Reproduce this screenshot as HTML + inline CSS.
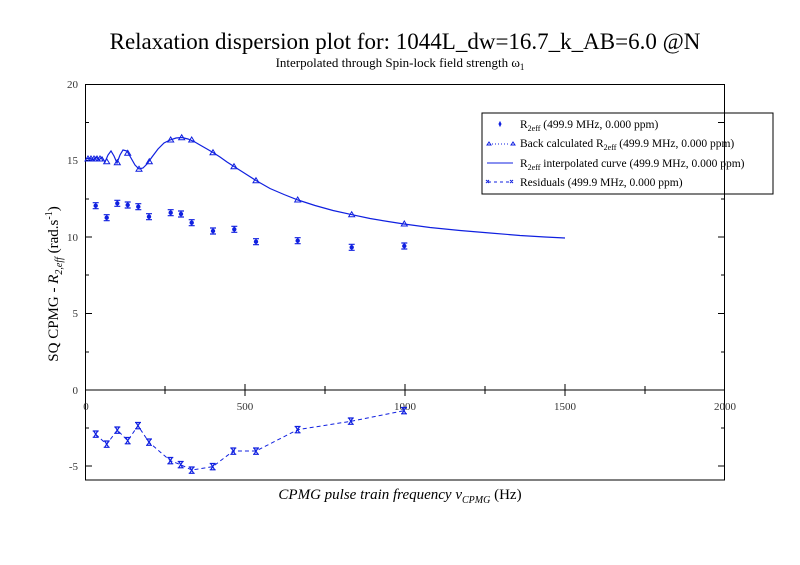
<!DOCTYPE html>
<html><head><meta charset="utf-8"><style>
html,body{margin:0;padding:0;background:#fff;}
svg{display:block;}
text{font-family:"Liberation Serif",serif;}
</style></head><body>
<svg width="800" height="565" viewBox="0 0 800 565" xmlns="http://www.w3.org/2000/svg">
<rect width="800" height="565" fill="#fff"/>
<text x="405" y="49" font-size="23" text-anchor="middle">Relaxation dispersion plot for: 1044L_dw=16.7_k_AB=6.0 @N</text>
<text x="400" y="67" font-size="13" text-anchor="middle">Interpolated through Spin-lock field strength ω<tspan font-size="9" dy="3">1</tspan></text>

<g stroke="#000" stroke-width="1" fill="none">
<rect x="85.5" y="84.5" width="639" height="395.5"/>
<line x1="85" y1="390" x2="725" y2="390"/>
</g>
<g stroke="#000" stroke-width="1">
<!-- y ticks top -->
<line x1="85" y1="84.5" x2="92" y2="84.5"/><line x1="85" y1="160.5" x2="92" y2="160.5"/><line x1="85" y1="237" x2="92" y2="237"/><line x1="85" y1="313.5" x2="92" y2="313.5"/>
<line x1="85" y1="122.5" x2="89" y2="122.5"/><line x1="85" y1="199" x2="89" y2="199"/><line x1="85" y1="275" x2="89" y2="275"/><line x1="85" y1="352" x2="89" y2="352"/>
<line x1="718" y1="160.5" x2="725" y2="160.5"/><line x1="718" y1="237" x2="725" y2="237"/><line x1="718" y1="313.5" x2="725" y2="313.5"/>
<line x1="721" y1="122.5" x2="725" y2="122.5"/><line x1="721" y1="199" x2="725" y2="199"/><line x1="721" y1="275" x2="725" y2="275"/><line x1="721" y1="352" x2="725" y2="352"/>
<!-- bottom y ticks -->
<line x1="85" y1="466" x2="92" y2="466"/><line x1="85" y1="428" x2="89" y2="428"/>
<line x1="718" y1="466" x2="725" y2="466"/><line x1="721" y1="428" x2="725" y2="428"/>
<!-- x ticks on 0 line -->
<line x1="245" y1="384" x2="245" y2="396"/><line x1="405" y1="384" x2="405" y2="396"/><line x1="565" y1="384" x2="565" y2="396"/>
<line x1="165" y1="386" x2="165" y2="394"/><line x1="325" y1="386" x2="325" y2="394"/><line x1="485" y1="386" x2="485" y2="394"/><line x1="645" y1="386" x2="645" y2="394"/>
</g>
<g font-size="11" fill="#333">
<text x="78" y="88" text-anchor="end">20</text>
<text x="78" y="164" text-anchor="end">15</text>
<text x="78" y="241" text-anchor="end">10</text>
<text x="78" y="317" text-anchor="end">5</text>
<text x="78" y="394" text-anchor="end">0</text>
<text x="78" y="470" text-anchor="end">-5</text>
<text x="86" y="410" text-anchor="middle">0</text>
<text x="245" y="410" text-anchor="middle">500</text>
<text x="405" y="410" text-anchor="middle">1000</text>
<text x="565" y="410" text-anchor="middle">1500</text>
<text x="725" y="410" text-anchor="middle">2000</text>
</g>
<text transform="translate(58,284) rotate(-90)" font-size="15" text-anchor="middle">SQ CPMG - <tspan font-style="italic">R</tspan><tspan font-style="italic" font-size="10" dy="4">2,eff</tspan><tspan dy="-4"> (rad.s</tspan><tspan font-size="10" dy="-6">-1</tspan><tspan dy="6">)</tspan></text>
<text x="400" y="499" font-size="15" text-anchor="middle"><tspan font-style="italic">CPMG pulse train frequency ν</tspan><tspan font-style="italic" font-size="10" dy="4">CPMG</tspan><tspan dy="-4"> (Hz)</tspan></text>

<!-- interpolated curve -->
<path d="M86,159 L90,158 L93,160 L96,157 L99,160 L102,157 L105,162 L108,155 L111,151 L114,156 L117,163 L120,155 L123,150 L127,151 L131,158 L135,165 L139,169 L143,168 L147,164 L152,157 L158,149 L164,143 L170,140 L176,138 L182,137.5 L188,139 L194,141.5 L200,145 L207,149 L213,152.5 L220,157 L227,162 L234,166.5 L245,173.5 L256,180.5 L270,188.5 L284,194.5 L298,200 L315,205.5 L333,210.5 L352,214.7 L370,218.5 L388,221.5 L404,224 L430,227.5 L460,230.5 L490,233 L520,235.5 L545,237 L565,238" fill="none" stroke="#1020e0" stroke-width="1.2"/>
<!-- back calculated triangles -->
<g fill="none" stroke="#1020e0" stroke-width="1">
<path id="t" d="M0,-3 L3,2 L-3,2 Z" transform="translate(88,159)"/>
<path d="M0,-3 L3,2 L-3,2 Z" transform="translate(91,159)"/>
<path d="M0,-3 L3,2 L-3,2 Z" transform="translate(94,159)"/>
<path d="M0,-3 L3,2 L-3,2 Z" transform="translate(97,159)"/>
<path d="M0,-3 L3,2 L-3,2 Z" transform="translate(100,159)"/>
<path d="M0,-3 L3,2 L-3,2 Z" transform="translate(106.7,161.7)"/>
<path d="M0,-3 L3,2 L-3,2 Z" transform="translate(117.3,162.7)"/>
<path d="M0,-3 L3,2 L-3,2 Z" transform="translate(127.7,153.3)"/>
<path d="M0,-3 L3,2 L-3,2 Z" transform="translate(139,169.3)"/>
<path d="M0,-3 L3,2 L-3,2 Z" transform="translate(149.3,161.7)"/>
<path d="M0,-3 L3,2 L-3,2 Z" transform="translate(170.7,140)"/>
<path d="M0,-3 L3,2 L-3,2 Z" transform="translate(181.7,137.7)"/>
<path d="M0,-3 L3,2 L-3,2 Z" transform="translate(191.7,140)"/>
<path d="M0,-3 L3,2 L-3,2 Z" transform="translate(213,152.7)"/>
<path d="M0,-3 L3,2 L-3,2 Z" transform="translate(234,166.7)"/>
<path d="M0,-3 L3,2 L-3,2 Z" transform="translate(256,180.7)"/>
<path d="M0,-3 L3,2 L-3,2 Z" transform="translate(297.7,200)"/>
<path d="M0,-3 L3,2 L-3,2 Z" transform="translate(351.7,214.7)"/>
<path d="M0,-3 L3,2 L-3,2 Z" transform="translate(404.3,224)"/>
</g>
<!-- measured points with error bars -->
<g stroke="#1020e0" stroke-width="1.2" fill="#1020e0">
<g transform="translate(95.7,205.7)"><path d="M-3,-3H3M-3,3H3M0,-3V3" fill="none"/><circle r="1.6"/></g>
<g transform="translate(106.7,217.7)"><path d="M-3,-3H3M-3,3H3M0,-3V3" fill="none"/><circle r="1.6"/></g>
<g transform="translate(117.3,203.3)"><path d="M-3,-3H3M-3,3H3M0,-3V3" fill="none"/><circle r="1.6"/></g>
<g transform="translate(127.7,205)"><path d="M-3,-3H3M-3,3H3M0,-3V3" fill="none"/><circle r="1.6"/></g>
<g transform="translate(138.3,206.7)"><path d="M-3,-3H3M-3,3H3M0,-3V3" fill="none"/><circle r="1.6"/></g>
<g transform="translate(149,216.7)"><path d="M-3,-3H3M-3,3H3M0,-3V3" fill="none"/><circle r="1.6"/></g>
<g transform="translate(170.7,212.7)"><path d="M-3,-3H3M-3,3H3M0,-3V3" fill="none"/><circle r="1.6"/></g>
<g transform="translate(181,214)"><path d="M-3,-3H3M-3,3H3M0,-3V3" fill="none"/><circle r="1.6"/></g>
<g transform="translate(191.7,222.7)"><path d="M-3,-3H3M-3,3H3M0,-3V3" fill="none"/><circle r="1.6"/></g>
<g transform="translate(213,231)"><path d="M-3,-3H3M-3,3H3M0,-3V3" fill="none"/><circle r="1.6"/></g>
<g transform="translate(234.3,229.3)"><path d="M-3,-3H3M-3,3H3M0,-3V3" fill="none"/><circle r="1.6"/></g>
<g transform="translate(256,241.7)"><path d="M-3,-3H3M-3,3H3M0,-3V3" fill="none"/><circle r="1.6"/></g>
<g transform="translate(297.7,240.7)"><path d="M-3,-3H3M-3,3H3M0,-3V3" fill="none"/><circle r="1.6"/></g>
<g transform="translate(351.7,247.3)"><path d="M-3,-3H3M-3,3H3M0,-3V3" fill="none"/><circle r="1.6"/></g>
<g transform="translate(404.3,246)"><path d="M-3,-3H3M-3,3H3M0,-3V3" fill="none"/><circle r="1.6"/></g>
</g>
<!-- residuals -->
<polyline points="95.7,434.3 106.7,444.3 117.3,430 127.7,440.7 138,425.7 149,442.3 170.3,460.7 180.7,464.7 191.7,470 212.7,466.7 233.3,451 256,451 297.6,429.7 350.8,421.3 404,410.7" fill="none" stroke="#1020e0" stroke-width="1" stroke-dasharray="4,3"/>
<g stroke="#1020e0" stroke-width="1.2" fill="none">
<path d="M92.7,431h6M92.7,437.3h6M93.7,431l4,6.3M97.7,431l-4,6.3"/>
<path d="M103.7,441h6M103.7,447.3h6M104.7,441l4,6.3M108.7,441l-4,6.3"/>
<path d="M114.3,427h6M114.3,433.3h6M115.3,427l4,6.3M119.3,427l-4,6.3"/>
<path d="M124.7,437.5h6M124.7,443.8h6M125.7,437.5l4,6.3M129.7,437.5l-4,6.3"/>
<path d="M135,422.5h6M135,428.8h6M136,422.5l4,6.3M140,422.5l-4,6.3"/>
<path d="M146,439h6M146,445.3h6M147,439l4,6.3M151,439l-4,6.3"/>
<path d="M167.3,457.5h6M167.3,463.8h6M168.3,457.5l4,6.3M172.3,457.5l-4,6.3"/>
<path d="M177.7,461.5h6M177.7,467.8h6M178.7,461.5l4,6.3M182.7,461.5l-4,6.3"/>
<path d="M188.7,467h6M188.7,473.3h6M189.7,467l4,6.3M193.7,467l-4,6.3"/>
<path d="M209.7,463.5h6M209.7,469.8h6M210.7,463.5l4,6.3M214.7,463.5l-4,6.3"/>
<path d="M230.3,448h6M230.3,454.3h6M231.3,448l4,6.3M235.3,448l-4,6.3"/>
<path d="M253,448h6M253,454.3h6M254,448l4,6.3M258,448l-4,6.3"/>
<path d="M294.6,426.5h6M294.6,432.8h6M295.6,426.5l4,6.3M299.6,426.5l-4,6.3"/>
<path d="M347.8,418h6M347.8,424.3h6M348.8,418l4,6.3M352.8,418l-4,6.3"/>
<path d="M401,407.5h6M401,413.8h6M402,407.5l4,6.3M406,407.5l-4,6.3"/>
</g>

<!-- legend -->
<rect x="482" y="113" width="291" height="81" fill="#fff" stroke="#000" stroke-width="1"/>
<line x1="724.5" y1="84" x2="724.5" y2="200" stroke="#000" stroke-width="1"/>
<line x1="718" y1="122.5" x2="725" y2="122.5" stroke="#000"/>
<g font-size="11.5" fill="#000">
<text x="520" y="128">R<tspan font-size="8" dy="3">2eff</tspan><tspan dy="-3"> (499.9 MHz, 0.000 ppm)</tspan></text>
<text x="520" y="147">Back calculated R<tspan font-size="8" dy="3">2eff</tspan><tspan dy="-3"> (499.9 MHz, 0.000 ppm)</tspan></text>
<text x="520" y="167">R<tspan font-size="8" dy="3">2eff</tspan><tspan dy="-3"> interpolated curve (499.9 MHz, 0.000 ppm)</tspan></text>
<text x="520" y="186">Residuals (499.9 MHz, 0.000 ppm)</text>
</g>
<g stroke="#1020e0" fill="none" stroke-width="1">
<path d="M500,122v4M499,124l1,-2 1,2 -1,2z"/>
<path d="M487,145l2,-3 2,3z M511,145l2,-3 2,3z"/>
<line x1="492" y1="144" x2="510" y2="144" stroke-dasharray="1,2"/>
<line x1="487" y1="163" x2="513" y2="163"/>
<line x1="488" y1="182" x2="512" y2="182" stroke-dasharray="3,3"/>
<path d="M486,180l3,3M489,180l-3,3M510,180l3,3M513,180l-3,3"/>
</g>
</svg>
</body></html>
